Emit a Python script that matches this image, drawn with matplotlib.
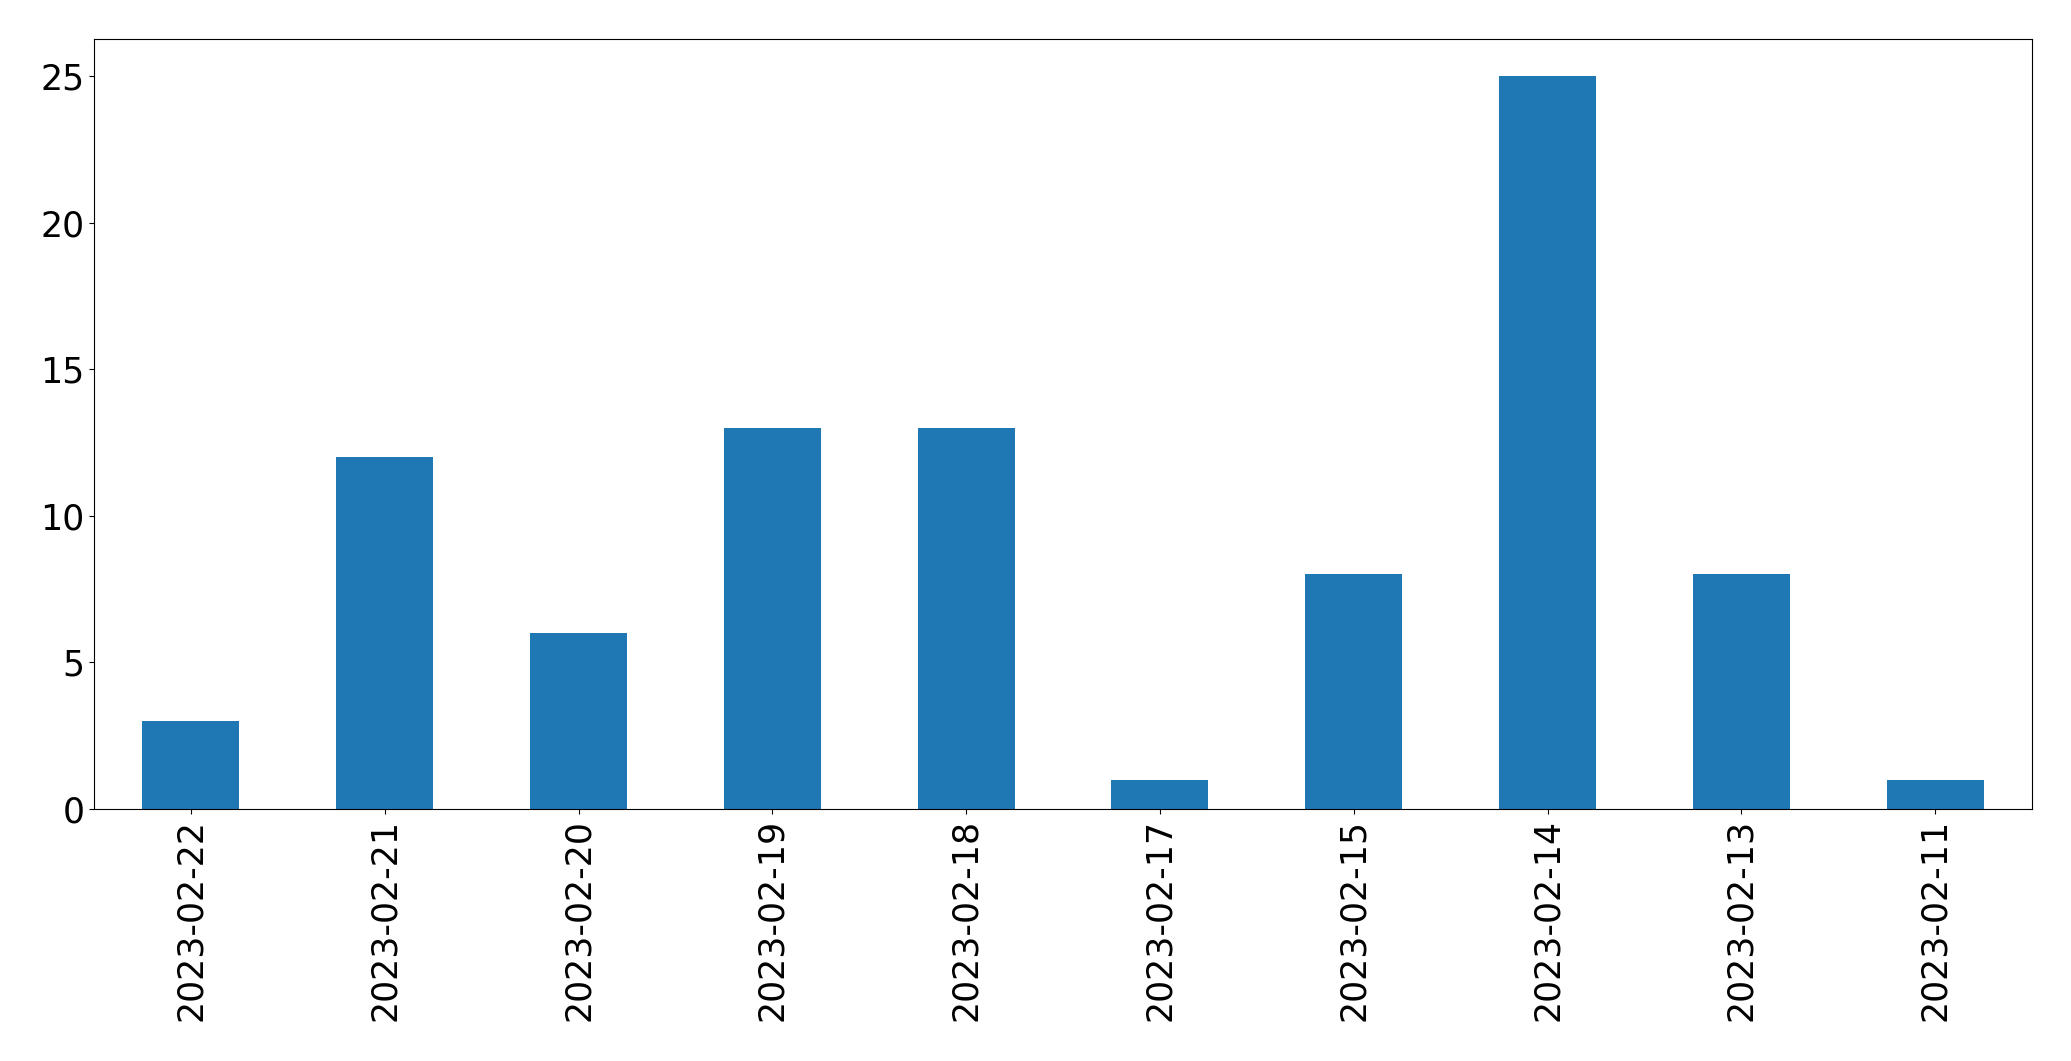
import matplotlib
matplotlib.use("Agg")
import matplotlib.pyplot as plt

dates = ["2023-02-22", "2023-02-21", "2023-02-20", "2023-02-19", "2023-02-18",
         "2023-02-17", "2023-02-15", "2023-02-14", "2023-02-13", "2023-02-11"]
counts = [3, 12, 6, 13, 13, 1, 8, 25, 8, 1]

fig = plt.figure(figsize=(20.71, 10.61), dpi=100)
ax = fig.add_axes([0.0454, 0.2375, 0.9358, 0.7255])
x = list(range(len(dates)))
ax.bar(x, counts, width=0.5, color="#1f77b4")
ax.set_xlim(-0.5, len(dates) - 0.5)
ax.set_xticks(x)
ax.set_xticklabels(dates, rotation=90, fontsize=25)
ax.tick_params(axis="y", labelsize=25)
ax.set_yticks([0, 5, 10, 15, 20, 25])
ax.set_ylim(0, 26.25)
fig.savefig("out.png", dpi=100)
